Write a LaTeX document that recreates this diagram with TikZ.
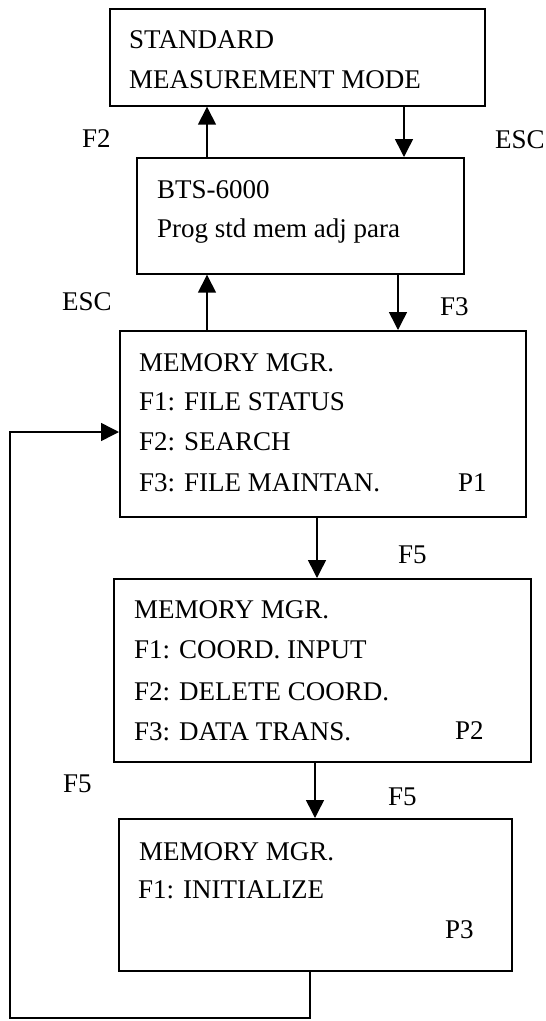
\documentclass[tikz,border=0pt]{standalone}
\usepackage{fontspec}
\setmainfont{Liberation Serif}
\usetikzlibrary{arrows.meta}
\begin{document}
\begin{tikzpicture}[x=1pt,y=-1pt,
  box/.style={draw,line width=1.7pt,anchor=north west,inner sep=0pt},
  txt/.style={anchor=base west,inner sep=0pt,font=\fontsize{27}{30}\selectfont},
  arr/.style={line width=1.5pt,-{Triangle[length=18pt,width=18pt]}}]
\path[use as bounding box] (0,0) rectangle (546,1021);
% boxes
\node[box,minimum width=375pt,minimum height=97pt] (b1) at (109,8) {};
\node[box,minimum width=327pt,minimum height=116pt] (b2) at (136,157) {};
\node[box,minimum width=406pt,minimum height=186pt] (b3) at (119,330) {};
\node[box,minimum width=417pt,minimum height=183pt] (b4) at (113,578) {};
\node[box,minimum width=393pt,minimum height=152pt] (b5) at (118,818) {};
% box texts
\node[txt] (t1a) at (129,48) {STANDARD};
\node[txt] (t1b) at (129,88) {MEASUREMENT MODE};
\node[txt] (t2a) at (157,198) {BTS-6000};
\node[txt] (t2b) at (157,237) {Prog std mem adj para};
\node[txt] (t3a) at (139,371) {MEMORY MGR.};
\node[txt] (t3b) at (139,410) {F1: FILE STATUS};
\node[txt] (t3c) at (139,450) {F2: SEARCH};
\node[txt] (t3d) at (139,491) {F3: FILE MAINTAN.};
\node[txt] (p1) at (458,491) {P1};
\node[txt] (t4a) at (134,618) {MEMORY MGR.};
\node[txt] (t4b) at (134,658) {F1: COORD. INPUT};
\node[txt] (t4c) at (134,700) {F2: DELETE COORD.};
\node[txt] (t4d) at (134,740) {F3: DATA TRANS.};
\node[txt] (p2) at (455,739) {P2};
\node[txt] (t5a) at (139,860) {MEMORY MGR.};
\node[txt] (t5b) at (138,898) {F1: INITIALIZE};
\node[txt] (p3) at (445,938) {P3};
% labels
\node[txt] (lf2) at (82,147) {F2};
\node[txt] (lesc1) at (495,148) {ESC};
\node[txt] (lesc2) at (62,310) {ESC};
\node[txt] (lf3) at (440,315) {F3};
\node[txt] (lf5a) at (398,563) {F5};
\node[txt] (lf5b) at (388,805) {F5};
\node[txt] (lf5c) at (63,792) {F5};
% helper coordinates
\coordinate (xa) at (207,0);
\coordinate (xb) at (404,0);
\coordinate (xc) at (398,0);
\coordinate (xd) at (317,0);
\coordinate (xe) at (315,0);
\coordinate (xf) at (310,0);
\coordinate (loopy) at (0,432);
\coordinate (c1) at (310,1018);
\coordinate (c2) at (10,1018);
\coordinate (c3) at (10,432);
% connectors
\draw[arr] (b2.north -| xa) -- (b1.south -| xa);
\draw[arr] (b1.south -| xb) -- (b2.north -| xb);
\draw[arr] (b3.north -| xa) -- (b2.south -| xa);
\draw[arr] (b2.south -| xc) -- (b3.north -| xc);
\draw[arr] (b3.south -| xd) -- (b4.north -| xd);
\draw[arr] (b4.south -| xe) -- (b5.north -| xe);
\draw[arr] (b5.south -| xf) -- (c1) -- (c2) -- (c3) -- (b3.west |- loopy);
\end{tikzpicture}
\end{document}
